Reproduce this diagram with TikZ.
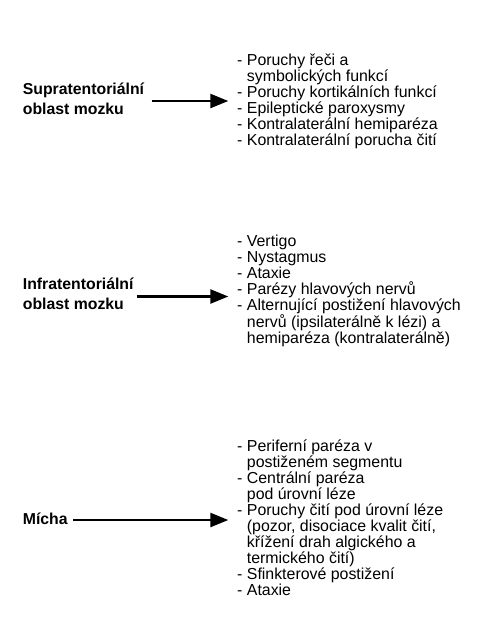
\documentclass[tikz,border=0pt]{standalone}
\usepackage{fontspec}
\setmainfont{Liberation Sans}
\usetikzlibrary{arrows.meta}
\tikzset{
  lab/.style={anchor=base west, inner sep=0pt, font=\bfseries\fontsize{15.8}{20}\selectfont, align=left},
  lst/.style={anchor=base west, inner sep=0pt, font=\fontsize{15.9}{16}\selectfont, align=left},
  conn/.style={line width=2.4pt, -{Triangle[length=18pt,width=14pt]}}
}
\newcommand{\ind}{\phantom{- }}
\begin{document}
\begin{tikzpicture}[x=1pt,y=-1pt]
\useasboundingbox (0,0) rectangle (480,640);
% block 1 (anchors at the baseline of the last line)
\node[lab] (lab1) at (22.7,114) {Supratentoriální\\oblast mozku};
\node[lst] (lst1) at (237,145) {- Poruchy řeči a\\\ind symbolických funkcí\\- Poruchy kortikálních funkcí\\- Epileptické paroxysmy\\- Kontralaterální hemiparéza\\- Kontralaterální porucha čití};
\coordinate (s1) at (151.7,101);
\coordinate (e1) at (228.3,101);
\draw[conn] (s1) -- (e1);
% block 2
\node[lab] (lab2) at (22.7,309) {Infratentoriální\\oblast mozku};
\node[lst] (lst2) at (237,343.3) {- Vertigo\\- Nystagmus\\- Ataxie\\- Parézy hlavových nervů\\- Alternující postižení hlavových\\\ind nervů (ipsilaterálně k lézi) a\\\ind hemiparéza (kontralaterálně)};
\coordinate (s2) at (136.7,296.5);
\coordinate (e2) at (228.3,296.5);
\draw[conn] (s2) -- (e2);
% block 3
\node[lab] (lab3) at (22.7,524.5) {Mícha};
\node[lst] (lst3) at (237,595.5) {- Periferní paréza v\\\ind postiženém segmentu\\- Centrální paréza\\\ind pod úrovní léze\\- Poruchy čití pod úrovní léze\\\ind (pozor, disociace kvalit čití,\\\ind křížení drah algického a\\\ind termického čití)\\- Sfinkterové postižení\\- Ataxie};
\coordinate (s3) at (73.3,520);
\coordinate (e3) at (228.3,520);
\draw[conn] (s3) -- (e3);
\end{tikzpicture}
\end{document}
